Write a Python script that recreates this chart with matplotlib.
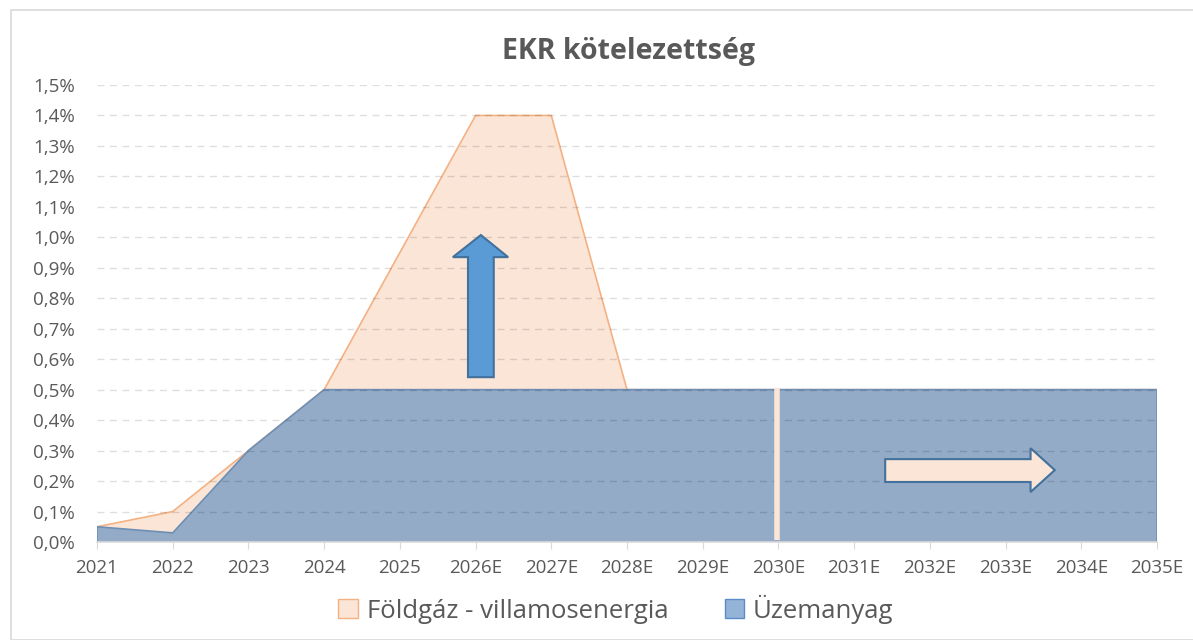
import numpy as np
import matplotlib
matplotlib.use("Agg")
from matplotlib import pyplot as plt
from matplotlib.patches import Polygon, Rectangle, Patch

plt.rcParams['font.family'] = ['Open Sans', 'DejaVu Sans']

years = ['2021', '2022', '2023', '2024', '2025', '2026E', '2027E', '2028E',
         '2029E', '2030E', '2031E', '2032E', '2033E', '2034E', '2035E']
foldgaz = [0.05, 0.10, 0.30, 0.50, 0.95, 1.40, 1.40, 0.50,
           0.50, 0.50, 0.50, 0.50, 0.50, 0.50, 0.50]
uzemanyag = [0.05, 0.03, 0.30, 0.50, 0.50, 0.50, 0.50, 0.50,
             0.50, 0.50, 0.50, 0.50, 0.50, 0.50, 0.50]
yticks = np.arange(0, 1.51, 0.1)

txt = '#595959'
x = np.arange(len(years))

fig = plt.figure(figsize=(11.93, 6.4), dpi=100)
ax = fig.add_axes([97/1193, 1-542/640, (1157-97)/1193, (542-85)/640])

# chart frame like excel
fig.patches.append(Rectangle((11/1193, 0), 1.0, 1-10/640, transform=fig.transFigure,
                             fill=False, edgecolor='#d9d9d9', linewidth=1.2))

ax.fill_between(x, foldgaz, color='#fbe5d6', edgecolor='none', zorder=2)
ax.plot(x, foldgaz, color='#f4b183', linewidth=1.2, zorder=2.1)
ax.fill_between(x, uzemanyag, color='#93abc6', edgecolor='none', zorder=3)
ax.plot(x, uzemanyag, color='#6e8fb5', linewidth=1.2, zorder=3.1)
ax.plot([x[0], x[0]], [0, uzemanyag[0]], color='#6e8fb5', linewidth=1.2, zorder=3.1)
ax.plot([x[-1], x[-1]], [0, uzemanyag[-1]], color='#6e8fb5', linewidth=1.2, zorder=3.1)

# gridlines show faintly through the areas
for v in yticks[1:]:
    ax.axhline(v, color='black', alpha=0.13, linestyle=(0, (5, 4)), linewidth=1, zorder=4)

# shapes drawn on the chart
ax.plot([8.98, 8.98], [0.008, 0.505], color='#fbe5d6', linewidth=4, zorder=5,
        solid_capstyle='butt')
up = [(4.90, 0.541), (5.24, 0.541), (5.24, 0.935), (5.43, 0.935), (5.07, 1.0075),
      (4.70, 0.935), (4.90, 0.935)]
ax.add_patch(Polygon(up, closed=True, facecolor='#5b9bd5', edgecolor='#41719c',
                     linewidth=1.5, zorder=6))
right = [(10.41, 0.197), (12.33, 0.197), (12.33, 0.164), (12.65, 0.236), (12.33, 0.308),
         (12.33, 0.272), (10.41, 0.272)]
ax.add_patch(Polygon(right, closed=True, facecolor='#fbe5d6', edgecolor='#41719c',
                     linewidth=1.5, zorder=6))

ax.set_xlim(0, len(years) - 1)
ax.set_ylim(0, 1.5)
ax.set_xticks(x)
ax.set_xticklabels(years)
ax.set_yticks(yticks)
ax.set_yticklabels([('%.1f%%' % v).replace('.', ',') for v in yticks])
ax.tick_params(axis='x', colors='#d9d9d9', labelcolor=txt, labelsize=13.5, length=5, pad=7)
ax.tick_params(axis='y', length=0, labelcolor=txt, labelsize=13.5, pad=16)
for s in ['top', 'right', 'left']:
    ax.spines[s].set_visible(False)
ax.spines['bottom'].set_color('#d9d9d9')
ax.spines['bottom'].set_linewidth(1.2)
ax.spines['bottom'].set_zorder(7)

fig.text(629/1193, 1-52/640, 'EKR kötelezettség', ha='center', va='center',
         fontsize=20.5, fontweight='bold', color=txt)

handles = [Patch(facecolor='#fbe5d6', edgecolor='#f4b183', label='Földgáz - villamosenergia'),
           Patch(facecolor='#95b3d7', edgecolor='#5b8cc8', label='Üzemanyag')]
fig.legend(handles=handles, loc='center', bbox_to_anchor=(616/1193, 1-609/640), ncol=2,
           frameon=False, fontsize=18.5, labelcolor=txt, handlelength=0.75, handleheight=0.75,
           columnspacing=2.2, handletextpad=0.35)

fig.savefig('out.png', dpi=100)
